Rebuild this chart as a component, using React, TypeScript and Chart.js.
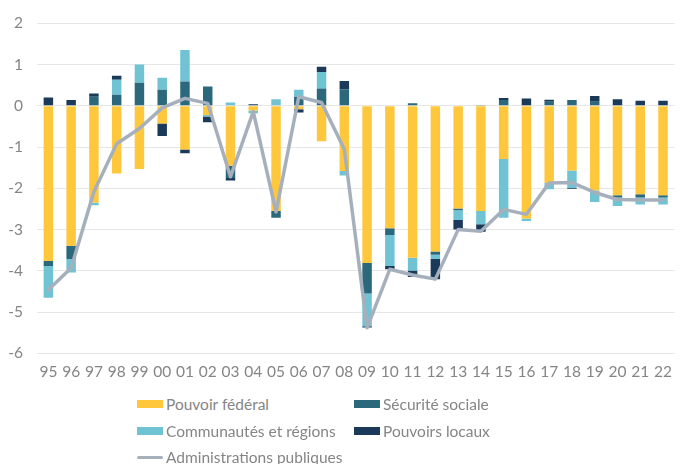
import React, { useEffect, useRef } from "react";
import { Chart, registerables } from "chart.js";

Chart.register(...registerables);

const years = ["95","96","97","98","99","00","01","02","03","04","05","06","07","08","09","10","11","12","13","14","15","16","17","18","19","20","21","22"];

const federal = [-3.76,-3.39,-2.35,-1.64,-1.53,-0.43,-1.06,-0.22,-1.45,-0.12,-2.55,-0.08,-0.86,-1.58,-3.81,-2.97,-3.68,-3.53,-2.49,-2.55,-1.29,-2.73,-1.87,-1.57,-2.05,-2.17,-2.14,-2.17];
const secu = [-0.12,-0.32,0.22,0.27,0.56,0.39,0.59,0.47,-0.3,0,-0.16,0.22,0.42,0.4,-0.74,-0.16,0.06,-0.08,-0.04,0.02,0.14,0,0.1,0.14,0.1,-0.05,-0.08,-0.05];
const communautes = [-0.77,-0.33,-0.06,0.36,0.44,0.29,0.76,-0.04,0.08,-0.06,0.16,0.17,0.4,-0.11,-0.79,-0.75,-0.31,-0.1,-0.24,-0.32,-1.42,-0.06,-0.15,-0.42,-0.28,-0.21,-0.17,-0.17];
const locaux = [0.2,0.14,0.08,0.1,0,-0.3,-0.09,-0.14,-0.06,0.04,0,-0.08,0.13,0.2,-0.03,-0.08,-0.16,-0.49,-0.23,-0.18,0.05,0.18,0.05,-0.02,0.14,0.16,0.12,0.12];
const total = [-4.46,-3.93,-2.08,-0.92,-0.55,-0.05,0.18,0.06,-1.72,-0.14,-2.57,0.22,0.08,-1.05,-5.38,-3.96,-4.1,-4.2,-3.0,-3.04,-2.51,-2.63,-1.87,-1.86,-2.1,-2.27,-2.28,-2.28];

const yTicks = [2,1,0,-1,-2,-3,-4,-5,-6];

const C_FED = "#ffc73b";
const C_SECU = "#2c687b";
const C_COMM = "#6fc3d3";
const C_LOC = "#1b3a5a";
const C_LINE = "#a6b0bd";
const TXT = "#858585";
const FONT = "Lato";

export default function App() {
  const ref = useRef<HTMLCanvasElement>(null);
  useEffect(() => {
    const ctx = ref.current!;
    const bar = (label: string, data: number[], color: string) => ({
      type: "bar" as const,
      label,
      data,
      backgroundColor: color,
      borderWidth: 0,
      stack: "s",
      order: 1,
      categoryPercentage: 0.8,
      barPercentage: 0.52,
    });
    const chart = new Chart(ctx, {
      type: "bar",
      data: {
        labels: years,
        datasets: [
          bar("Pouvoir fédéral", federal, C_FED),
          bar("Sécurité sociale", secu, C_SECU),
          bar("Communautés et régions", communautes, C_COMM),
          bar("Pouvoirs locaux", locaux, C_LOC),
          {
            type: "line" as const,
            label: "Administrations publiques",
            data: total,
            borderColor: C_LINE,
            backgroundColor: C_LINE,
            borderWidth: 3.5,
            borderJoinStyle: "round",
            borderCapStyle: "round",
            pointRadius: 0,
            tension: 0,
            stack: "line",
            order: 0,
          } as any,
        ],
      },
      options: {
        animation: false,
        responsive: false,
        maintainAspectRatio: false,
        layout: { padding: { top: 13, right: 0, bottom: 0, left: 0 } },
        plugins: { legend: { display: false }, tooltip: { enabled: false } },
        scales: {
          x: {
            stacked: true,
            grid: { display: false, drawTicks: false },
            border: { display: false },
            ticks: { color: TXT, font: { family: FONT, size: 15.5 }, padding: 9, maxRotation: 0, autoSkip: false },
          },
          y: {
            stacked: true,
            min: -6,
            max: 2,
            afterFit: (s: any) => { s.width = 37; },
            afterBuildTicks: (s: any) => { s.ticks = yTicks.map((v) => ({ value: v })); },
            grid: { color: "#e6e6e6", lineWidth: 1, drawTicks: false },
            border: { display: false },
            ticks: { color: TXT, font: { family: FONT, size: 15.5 }, padding: 14, stepSize: 1 },
          },
        },
      },
    });
    return () => chart.destroy();
  }, []);

  const sw = (color: string) => (
    <span style={{ display: "inline-block", width: 26, height: 8, background: color, marginRight: 3 }} />
  );
  const item = (left: number, top: number, color: string, text: string, line = false) => (
    <div style={{ position: "absolute", left, top, display: "flex", alignItems: "center", height: 20, color: TXT, fontFamily: FONT, fontSize: 15.5, whiteSpace: "nowrap" }}>
      {line ? <span style={{ display: "inline-block", width: 26, height: 3, background: color, marginRight: 3, borderRadius: 2 }} /> : sw(color)}
      {text}
    </div>
  );

  return (
    <div style={{ position: "fixed", left: 0, top: 0, width: 681, height: 464, background: "#fff" }}>
      <canvas ref={ref} width={681} height={390} style={{ position: "absolute", left: 0, top: 0, width: 681, height: 390 }} />
      {item(137, 394, C_FED, "Pouvoir fédéral")}
      {item(354, 394, C_SECU, "Sécurité sociale")}
      {item(137, 421, C_COMM, "Communautés et régions")}
      {item(354, 421, C_LOC, "Pouvoirs locaux")}
      {item(137, 447, C_LINE, "Administrations publiques", true)}
    </div>
  );
}
